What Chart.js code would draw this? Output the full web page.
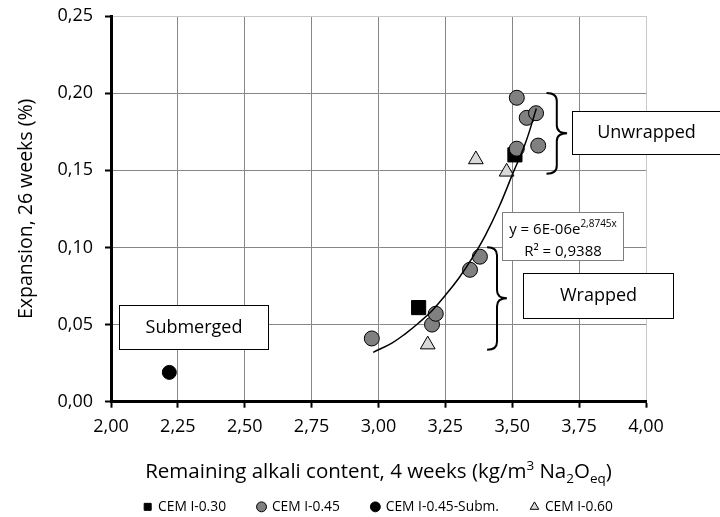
<!DOCTYPE html>
<html>
<head>
<meta charset="utf-8">
<script src="https://cdn.jsdelivr.net/npm/chart.js@4.4.0/dist/chart.umd.min.js"></script>
<style>
  html, body { margin: 0; padding: 0; background: #fff; }
</style>
</head>
<body>
<canvas id="myChart" width="720" height="517"></canvas>
<script>
// data
const xTickLabels = ["2,00", "2,25", "2,50", "2,75", "3,00", "3,25", "3,50", "3,75", "4,00"];
const yTickLabels = ["0,00", "0,05", "0,10", "0,15", "0,20", "0,25"];

const cem030X = [3.15, 3.51];
const cem030Y = [0.061, 0.160];

const cem045X = [2.975, 3.20, 3.214, 3.342, 3.379, 3.517, 3.554, 3.589, 3.517, 3.597];
const cem045Y = [0.041, 0.050, 0.057, 0.0855, 0.094, 0.197, 0.184, 0.187, 0.164, 0.166];

const submX = [2.218];
const submY = [0.019];

const cem060X = [3.364, 3.479, 3.184];
const cem060Y = [0.157, 0.149, 0.037];

// exponential trendline, points
const trendX = [2.98, 3.05, 3.10, 3.15, 3.20, 3.25, 3.30, 3.35, 3.40, 3.45, 3.50, 3.55, 3.59];
const trendY = [0.032, 0.038, 0.044, 0.051, 0.059, 0.069, 0.080, 0.093, 0.108, 0.126, 0.147, 0.168, 0.190];

const toPoints = (xs, ys) => xs.map((v, i) => ({ x: v, y: ys[i] }));

const FONT = "'Open Sans', sans-serif";
Chart.defaults.font.family = FONT;
Chart.defaults.color = "#000";

// text boxes and braces, placed in axis units
const labelBoxes = [
  { text: "Submerged", x0: 2.03, x1: 2.587, y0: 0.0628, y1: 0.0343 },
  { text: "Wrapped", x0: 3.54, x1: 4.101, y0: 0.0835, y1: 0.0544 },
  { text: "Unwrapped", x0: 3.723, x1: 4.275, y0: 0.1885, y1: 0.1606 },
];
const eqBox = { x0: 3.46, x1: 3.914, y0: 0.1227, y1: 0.0916 };
const braces = [
  { x0: 3.628, x1: 3.705, top: 0.2001, tip: 0.174, bottom: 0.1477 },
  { x0: 3.406, x1: 3.48, top: 0.1001, tip: 0.067, bottom: 0.0337 },
];

function drawRuns(ctx, runs, cx, baseline) {
  let total = 0;
  runs.forEach(r => {
    ctx.font = r.size + "px " + FONT;
    r.w = ctx.measureText(r.t).width;
    total += r.w;
  });
  let xx = cx - total / 2;
  ctx.textAlign = "left";
  ctx.textBaseline = "alphabetic";
  runs.forEach(r => {
    ctx.font = r.size + "px " + FONT;
    ctx.fillText(r.t, xx, baseline + (r.dy || 0));
    xx += r.w;
  });
}

function drawBrace(ctx, l, r, top, tip, bottom) {
  const xs = (l + r) / 2;
  const k = 8;
  ctx.beginPath();
  ctx.moveTo(l, top);
  ctx.quadraticCurveTo(xs, top, xs, top + k);
  ctx.lineTo(xs, tip - k);
  ctx.quadraticCurveTo(xs, tip, r, tip);
  ctx.quadraticCurveTo(xs, tip, xs, tip + k);
  ctx.lineTo(xs, bottom - k);
  ctx.quadraticCurveTo(xs, bottom, l, bottom);
  ctx.stroke();
}

const extras = {
  id: "extras",
  afterDraw(chart) {
    const { ctx, chartArea } = chart;
    const sx = chart.scales.x, sy = chart.scales.y;
    ctx.save();
    ctx.fillStyle = "#000";

    // braces
    ctx.strokeStyle = "#000";
    ctx.lineWidth = 2;
    braces.forEach(b => {
      drawBrace(ctx, sx.getPixelForValue(b.x0), sx.getPixelForValue(b.x1),
        sy.getPixelForValue(b.top), sy.getPixelForValue(b.tip), sy.getPixelForValue(b.bottom));
    });

    // label boxes
    labelBoxes.forEach(b => {
      const l = Math.round(sx.getPixelForValue(b.x0)) + 0.5;
      const r = Math.round(sx.getPixelForValue(b.x1)) + 0.5;
      const t = Math.round(sy.getPixelForValue(b.y0)) + 0.5;
      const bt = Math.round(sy.getPixelForValue(b.y1)) + 0.5;
      ctx.fillStyle = "#fff";
      ctx.fillRect(l, t, r - l, bt - t);
      ctx.strokeStyle = "#000";
      ctx.lineWidth = 1;
      ctx.strokeRect(l, t, r - l, bt - t);
      ctx.fillStyle = "#000";
      ctx.font = "18px " + FONT;
      ctx.textAlign = "center";
      ctx.textBaseline = "middle";
      ctx.fillText(b.text, (l + r) / 2, (t + bt) / 2);
    });

    // trendline equation
    const el = Math.round(sx.getPixelForValue(eqBox.x0)) + 0.5;
    const er = Math.round(sx.getPixelForValue(eqBox.x1)) + 0.5;
    const et = Math.round(sy.getPixelForValue(eqBox.y0)) + 0.5;
    const eb = Math.round(sy.getPixelForValue(eqBox.y1)) + 0.5;
    ctx.fillStyle = "#fff";
    ctx.fillRect(el, et, er - el, eb - et);
    ctx.strokeStyle = "#7f7f7f";
    ctx.lineWidth = 1;
    ctx.strokeRect(el, et, er - el, eb - et);
    ctx.fillStyle = "#000";
    const ecx = (el + er) / 2;
    drawRuns(ctx, [{ t: "y = 6E-06e", size: 15 }, { t: "2,8745x", size: 10, dy: -7 }], ecx, et + 21);
    drawRuns(ctx, [{ t: "R\u00b2 = 0,9388", size: 15 }], ecx, et + 43);

    // x axis title with sub/superscripts
    drawRuns(ctx, [
      { t: "Remaining alkali content, 4 weeks (kg/m", size: 20.5 },
      { t: "3", size: 13.5, dy: -8 },
      { t: " Na", size: 20.5 },
      { t: "2", size: 13.5, dy: 5 },
      { t: "O", size: 20.5 },
      { t: "eq", size: 13.5, dy: 5 },
      { t: ")", size: 20.5 },
    ], (chartArea.left + chartArea.right) / 2, 478);

    ctx.restore();
  }
};

const data = {
  datasets: [
    {
      label: "CEM I-0.30",
      data: toPoints(cem030X, cem030Y),
      pointStyle: "rect",
      pointRadius: 10,
      backgroundColor: "#000",
      borderColor: "#000",
      borderWidth: 1,
      order: 3,
    },
    {
      label: "CEM I-0.45",
      data: toPoints(cem045X, cem045Y),
      pointStyle: "circle",
      pointRadius: 7.5,
      backgroundColor: "#808080",
      borderColor: "#000",
      borderWidth: 1,
      order: 2,
    },
    {
      label: "CEM I-0.45-Subm.",
      data: toPoints(submX, submY),
      pointStyle: "circle",
      pointRadius: 7,
      backgroundColor: "#000",
      borderColor: "#000",
      borderWidth: 1,
      order: 2,
    },
    {
      label: "CEM I-0.60",
      data: toPoints(cem060X, cem060Y),
      pointStyle: "triangle",
      pointRadius: 8.5,
      backgroundColor: "#d9d9d9",
      borderColor: "#000",
      borderWidth: 1,
      order: 1,
    },
    {
      label: "trend",
      data: toPoints(trendX, trendY),
      showLine: true,
      pointRadius: 0,
      borderColor: "#000",
      borderWidth: 1.5,
      tension: 0.4,
      fill: false,
      order: 0,
    },
  ],
};

const config = {
  type: "scatter",
  data,
  options: {
    responsive: false,
    animation: false,
    layout: { padding: { top: 16, right: 74, bottom: -6.75, left: 0 } },
    scales: {
      x: {
        min: 2,
        max: 4,
        ticks: {
          stepSize: 0.25,
          autoSkip: false,
          maxRotation: 0,
          padding: 8,
          font: { size: 18 },
          color: "#000",
          callback: (value, index) => xTickLabels[index],
        },
        grid: {
          color: ctx => (ctx.tick && ctx.tick.value === 4 ? "#c8c8c8" : "#878787"),
          lineWidth: 1,
          tickLength: 6,
          tickColor: "#000",
          tickWidth: 2,
        },
        border: { color: "#000", width: 3 },
        afterFit: s => { s.height = 66.25; s.paddingLeft = 0; s.paddingRight = 0; },
      },
      y: {
        min: 0,
        max: 0.25,
        ticks: {
          stepSize: 0.05,
          padding: 12,
          font: { size: 18 },
          color: "#000",
          callback: (value, index) => yTickLabels[index],
        },
        grid: {
          color: ctx => (ctx.tick && Math.abs(ctx.tick.value - 0.25) < 1e-9 ? "#c8c8c8" : "#878787"),
          lineWidth: 1,
          tickLength: 6,
          tickColor: "#000",
          tickWidth: 2,
        },
        border: { color: "#000", width: 3 },
        title: {
          display: true,
          text: "Expansion, 26 weeks (%)",
          font: { size: 19.5 },
          color: "#000",
          padding: { top: 15, bottom: 0 },
        },
        afterFit: s => { s.width = 111; s.paddingTop = 0; s.paddingBottom = 0; },
      },
    },
    plugins: {
      legend: {
        position: "bottom",
        fullSize: false,
        labels: {
          usePointStyle: true,
          boxWidth: 7,
          boxHeight: 7,
          padding: 32,
          color: "#000",
          font: { size: 13.8 },
          filter: item => item.datasetIndex < 4,
          sort: (a, b) => a.datasetIndex - b.datasetIndex,
        },
      },
      tooltip: { enabled: false },
    },
  },
  plugins: [extras],
};

const myChart = new Chart(document.getElementById("myChart"), config);
</script>
</body>
</html>
